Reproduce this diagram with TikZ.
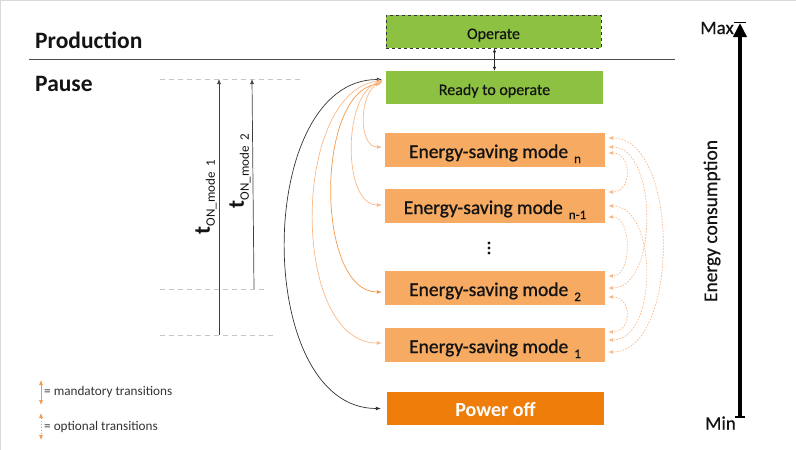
\documentclass[tikz,border=0pt]{standalone}
\usepackage{fontspec}
\setmainfont{Carlito}
\newfontface\semib{Carlito}[FakeBold=1.0]
\newfontface\semil{Carlito}[FakeBold=0.6]
\usetikzlibrary{arrows.meta}
\definecolor{grn}{RGB}{141,193,66}
\definecolor{lor}{RGB}{247,171,98}
\definecolor{dor}{RGB}{238,125,10}
\definecolor{arcor}{RGB}{249,184,136}
\definecolor{arcdk}{RGB}{242,152,72}
\definecolor{txt}{RGB}{20,20,20}
\newcommand\esub[1]{\hspace{6pt}\raisebox{-5pt}{\fontsize{13}{13}\selectfont #1}}
\begin{document}
\begin{tikzpicture}[x=1pt,y=-1pt,
  gbox/.style={fill=grn,minimum width=217pt,minimum height=33pt,inner sep=0pt,text=txt,text height=16pt,text depth=1pt,font=\semil\fontsize{16}{18}\selectfont},
  esm/.style={fill=lor,minimum width=220pt,minimum height=34pt,inner sep=0pt,text=txt,text height=18pt,text depth=2pt,font=\semib\fontsize{19.5}{21}\selectfont},
  marr/.style={draw=arcor,line width=0.7pt,{Latex[length=5pt,width=4pt]}-{Latex[length=5pt,width=4pt]}},
  oarr/.style={draw=arcor,line width=0.7pt,dash pattern=on 1.6pt off 1.4pt,{Latex[length=5pt,width=4pt]}-{Latex[length=5pt,width=4pt]}},
  barr/.style={draw=black!80,line width=0.7pt,{Latex[length=5pt,width=4pt]}-{Latex[length=5pt,width=4pt]}},
  guide/.style={draw=black!22,line width=0.7pt,dash pattern=on 5pt off 4pt},
  tarr/.style={draw=black!75,line width=0.7pt,-{Latex[length=5pt,width=4pt]}},
  lbl/.style={text=txt,inner sep=0pt}
]
\useasboundingbox (0,0) rectangle (796,450);
\draw[black!15,line width=1pt] (0,0.5) -- (796,0.5);
\draw[black!15,line width=1pt] (0.5,0) -- (0.5,450);

% phase labels and separator
\node[lbl,anchor=west,font=\fontsize{23.5}{25}\selectfont\bfseries] (prod) at (35,40) {Production};
\node[lbl,anchor=west,font=\fontsize{23.5}{25}\selectfont\bfseries] (pause) at (35,84) {Pause};
\coordinate (sepL) at (29,59.5);
\coordinate (sepR) at (675,59.5);
\draw[black!70,line width=0.9pt] (sepL) -- (sepR);

% boxes
\node[gbox,draw=black!80,dashed,line width=0.7pt,minimum width=215pt] (op) at (493.5,31.5) {Operate};
\node[gbox] (ready) at (494.5,87.5) {Ready to operate};
\node[esm] (mn) at (495,150) {Energy-saving mode\esub{n}};
\node[esm] (mn1) at (495,206) {Energy-saving mode\esub{n-1}};
\node[esm] (m2) at (495,288) {Energy-saving mode\esub{2}};
\node[esm] (m1) at (495,345) {Energy-saving mode\esub{1}};
\node[fill=dor,minimum width=217pt,minimum height=33pt,inner sep=0pt,text=white,text height=17pt,text depth=1pt,font=\fontsize{20}{22}\selectfont\bfseries] (off) at (495.5,408.5) {Power off};

% vertical dots
\fill[txt] (489,243) circle (1.6) (489,248) circle (1.6) (489,253) circle (1.6);

% operate <-> ready
\draw[draw=black!85,line width=0.7pt,{Latex[length=4pt,width=3.5pt]}-{Latex[length=4pt,width=3.5pt]}] ([xshift=1pt]op.south) -- ([xshift=0pt]ready.north);

% left mandatory arcs
\draw[barr] ([xshift=-4pt,yshift=8pt]ready.west) .. controls +(-128,0) and +(-128,0) .. ([xshift=-6pt]off.west);
\draw[marr] ([xshift=-3pt,yshift=7pt]ready.west) .. controls +(-92,10) and +(-92,0) .. ([xshift=-3pt,yshift=2pt]m1.west);
\draw[marr,draw=arcdk] ([xshift=-5pt,yshift=4pt]ready.west) .. controls +(-66,10) and +(-66,0) .. ([xshift=-3pt,yshift=-4pt]m2.west);
\draw[marr] ([xshift=-3pt,yshift=6pt]ready.west) .. controls +(-40,10) and +(-40,0) .. ([xshift=-3pt,yshift=1pt]mn1.west);
\draw[marr] ([xshift=-3pt,yshift=6pt]ready.west) .. controls +(-24,10) and +(-24,0) .. ([xshift=-3pt,yshift=3pt]mn.west);

% right optional arcs
\draw[oarr] ([xshift=3pt,yshift=12pt]mn.east) .. controls +(72,0) and +(72,0) .. ([xshift=3pt,yshift=-7pt]m1.east);
\draw[oarr] ([xshift=3pt,yshift=3pt]mn.east) .. controls +(50,0) and +(50,0) .. ([xshift=3pt,yshift=0pt]m2.east);
\draw[oarr] ([xshift=3pt,yshift=-3pt]mn.east) .. controls +(24,0) and +(24,0) .. ([xshift=3pt,yshift=14pt]mn1.east);
\draw[oarr] ([xshift=3pt,yshift=0pt]mn1.east) .. controls +(50,0) and +(50,0) .. ([xshift=3pt,yshift=5pt]m1.east);
\draw[oarr] ([xshift=3pt,yshift=-11pt]mn1.east) .. controls +(24,0) and +(24,0) .. ([xshift=3pt,yshift=12pt]m2.east);
\draw[oarr] ([xshift=3pt,yshift=-9pt]m2.east) .. controls +(24,0) and +(24,0) .. ([xshift=3pt,yshift=13pt]m1.east);

% time guides
\coordinate (g1a) at (160,79); \coordinate (g1b) at (304,79);
\coordinate (g2a) at (160,289); \coordinate (g2b) at (268,289);
\coordinate (g3a) at (160,335); \coordinate (g3b) at (275,335);
\draw[guide] (g1a) -- (g1b);
\draw[guide] (g2a) -- (g2b);
\draw[guide] (g3a) -- (g3b);
\coordinate (t1b) at (219,335); \coordinate (t1t) at (219,79);
\coordinate (t2b) at (254,289); \coordinate (t2t) at (252,79);
\draw[tarr] (t1b) -- (t1t);
\draw[tarr] (t2b) -- (t2t);
\node[lbl,rotate=90] (tl1) at (206,197) {{\fontsize{23}{24}\selectfont\bfseries t}\raisebox{-5pt}{\fontsize{13}{13}\selectfont ON\_mode\ \ 1}};
\node[lbl,rotate=90] (tl2) at (240,171) {{\fontsize{23}{24}\selectfont\bfseries t}\raisebox{-5pt}{\fontsize{13}{13}\selectfont ON\_mode\ \ 2}};

% energy axis
\coordinate (amin) at (740,417);
\coordinate (amax) at (740,22);
\draw[line width=4pt,-{Triangle[length=14pt,width=13pt]}] (amin) -- ([yshift=-1pt]amax);
\draw[line width=1.2pt] (734,22.5) -- (746,22.5);
\draw[line width=1.2pt] (735,417) -- (745,417);
\node[lbl,anchor=east,font=\semil\fontsize{19}{21}\selectfont] (max) at (734,28) {Max};
\node[lbl,anchor=east,font=\semil\fontsize{19}{21}\selectfont] (min) at (736,423) {Min};
\node[lbl,rotate=90,font=\semil\fontsize{19.5}{21}\selectfont] (ec) at (712,221) {Energy consumption};

% legend
\coordinate (l1a) at (41,380); \coordinate (l1b) at (41,405);
\coordinate (l2a) at (41,413); \coordinate (l2b) at (41,440);
\draw[marr,draw=arcdk] (l1a) -- (l1b);
\draw[oarr,draw=arcdk] (l2a) -- (l2b);
\node[lbl,anchor=west,font=\fontsize{13.2}{14}\selectfont,text=black!80] (lg1) at (44,392) {= mandatory transitions};
\node[lbl,anchor=west,font=\fontsize{13.2}{14}\selectfont,text=black!80] (lg2) at (44,427) {= optional transitions};
\end{tikzpicture}
\end{document}
